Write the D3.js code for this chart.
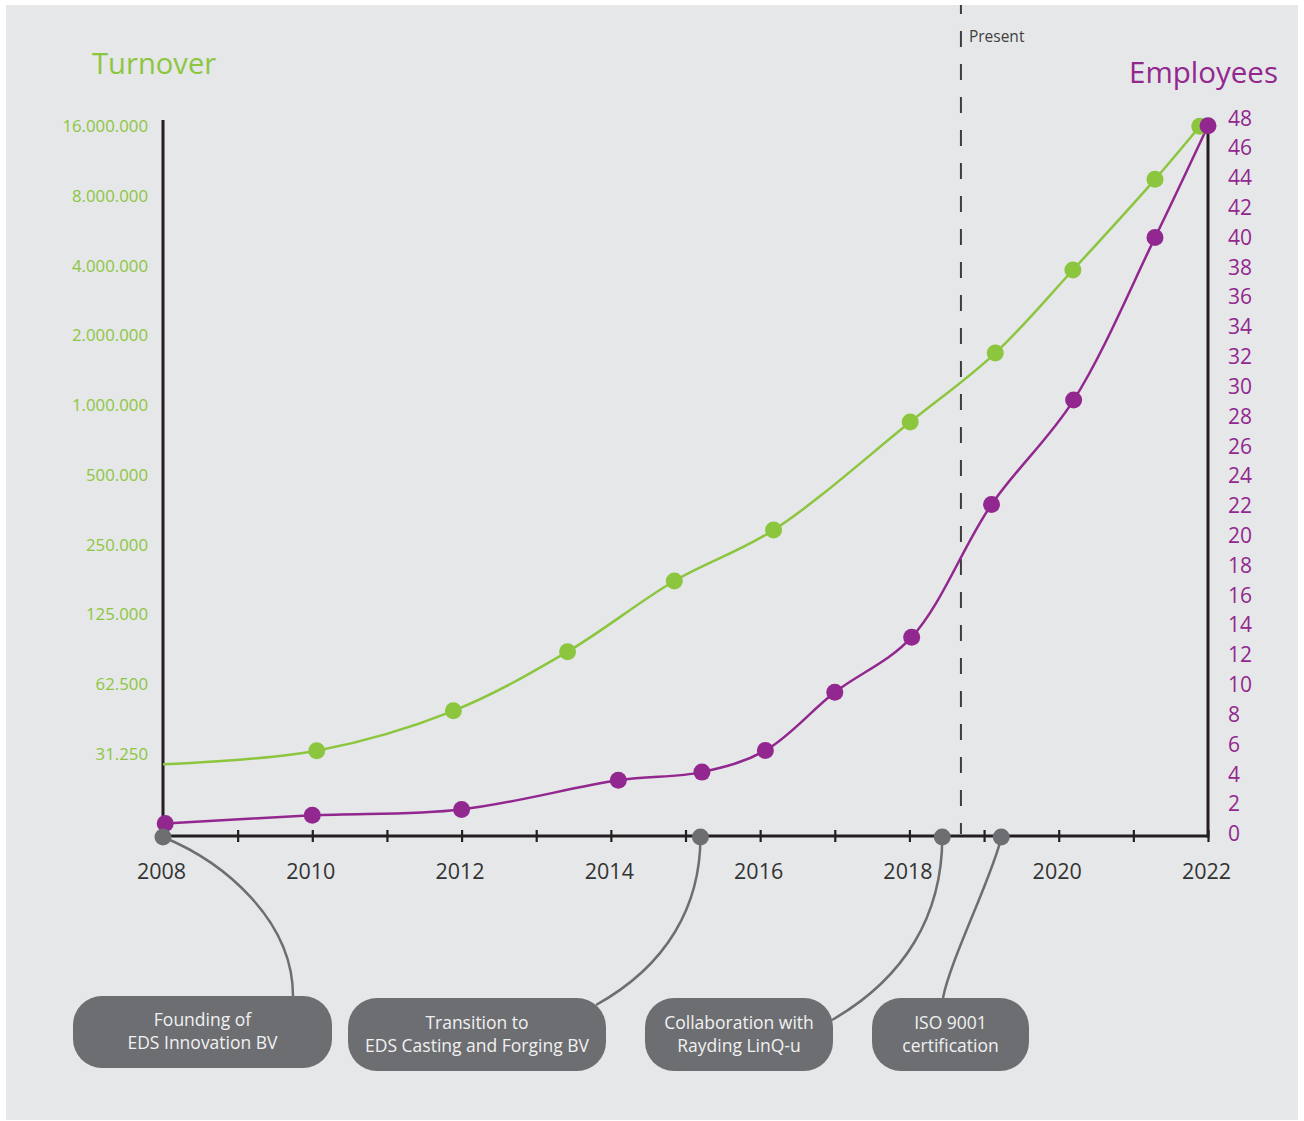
<!DOCTYPE html>
<html>
<head>
<meta charset="utf-8">
<script src="https://cdn.jsdelivr.net/npm/d3@7"></script>
<style>
  html, body { margin: 0; padding: 0; background: #ffffff; }
  svg { display: block; }
  text { font-family: "Open Sans", "Noto Sans", sans-serif; }
</style>
</head>
<body>
<svg id="chart" width="1304" height="1121"></svg>
<script>
// ---- data ----
const turnoverYears = [2008, 2010.06, 2011.89, 2013.42, 2014.85, 2016.18, 2018.01, 2019.15, 2020.19, 2021.29, 2021.89];
const turnover      = [28200, 32300, 48000, 86400, 174400, 289500, 846600, 1680000, 3834000, 9440000, 16000000];

const employeeYears = [2008.03, 2010, 2012, 2014.1, 2015.22, 2016.07, 2017, 2018.03, 2019.1, 2020.2, 2021.29, 2022];
const employees     = [0.7, 1.25, 1.65, 3.6, 4.15, 5.6, 9.5, 13.2, 22.1, 29.1, 40, 47.5];

const turnoverTicks = [31250, 62500, 125000, 250000, 500000, 1000000, 2000000, 4000000, 8000000, 16000000];
const employeeTicks = d3.range(0, 49, 2);
const yearTicks     = d3.range(2008, 2023, 1);
const yearLabels    = [2008, 2010, 2012, 2014, 2016, 2018, 2020, 2022];

const eventYears  = [2008, 2015.2, 2018.44, 2019.23];
const eventLabels = [
  ["Founding of", "EDS Innovation BV"],
  ["Transition to", "EDS Casting and Forging BV"],
  ["Collaboration with", "Rayding LinQ-u"],
  ["ISO 9001", "certification"]
];
const presentYear = 2018.69;

// ---- layout ----
const axisY = 836;
const leftX = 163, rightX = 1208;
const green = "#8cc63f", purple = "#92278f", grey = "#6d6e71", ink = "#231f20";

// pill boxes and connector shapes (box anchor + bezier handles)
const boxes = [
  { x: 73,  y: 996, w: 259, h: 72, c1: [61, 25],  c2: [293, 920], end: [293, 996] },
  { x: 348, y: 998, w: 258, h: 73, c1: [0, 68],   c2: [668, 965], end: [596, 1005] },
  { x: 645, y: 998, w: 188, h: 73, c1: [0, 78],   c2: [905, 978], end: [832, 1020] },
  { x: 872, y: 998, w: 157, h: 73, c1: [-6, 33],  c2: [950, 960], end: [943, 998] }
];

const svg = d3.select("#chart");

svg.append("rect")
  .attr("x", 6).attr("y", 5).attr("width", 1292).attr("height", 1115)
  .attr("fill", "#e6e7e8");

// ---- scales ----
const x = d3.scaleLinear().domain([2008, 2022]).range([leftX, rightX]);
const yT = d3.scaleLog().base(2).domain([31250, 16000000]).range([754, 126.25]);
const yE = d3.scaleLinear().domain([0, 48]).range([834, 118.3]);

const dotFmt = d3.formatLocale({ decimal: ",", thousands: ".", grouping: [3], currency: ["€", ""] }).format(",");

// ---- "Present" marker ----
svg.append("line")
  .attr("x1", x(presentYear)).attr("x2", x(presentYear))
  .attr("y1", 5).attr("y2", axisY - 2)
  .attr("stroke", "#3d3d3d").attr("stroke-width", 2)
  .attr("stroke-dasharray", "16,17").attr("stroke-dashoffset", 7);

svg.append("text")
  .attr("x", x(presentYear) + 8).attr("y", 42)
  .attr("font-size", 15.5).attr("fill", "#404041")
  .text("Present");

// ---- titles ----
svg.append("text")
  .attr("x", 92).attr("y", 74)
  .attr("font-size", 29.2).attr("fill", green)
  .text("Turnover");

svg.append("text")
  .attr("x", 1278).attr("y", 83).attr("text-anchor", "end")
  .attr("font-size", 29.5).attr("fill", purple)
  .text("Employees");

// ---- axes ----
const gLeft = svg.append("g").attr("transform", `translate(${leftX},0)`)
  .call(d3.axisLeft(yT).tickValues(turnoverTicks).tickFormat(dotFmt).tickSize(0).tickPadding(15));
gLeft.select(".domain").remove();
gLeft.selectAll("text").attr("fill", green).attr("font-size", 16.8)
  .style("font-family", "'Open Sans', sans-serif");

const gRight = svg.append("g").attr("transform", `translate(${rightX},0)`)
  .call(d3.axisRight(yE).tickValues(employeeTicks).tickSize(0).tickPadding(20));
gRight.select(".domain").remove();
gRight.selectAll("text").attr("fill", purple).attr("font-size", 21)
  .style("font-family", "'Open Sans', sans-serif");

// vertical axis lines
svg.append("line").attr("x1", leftX).attr("x2", leftX).attr("y1", 120).attr("y2", axisY + 1.5)
  .attr("stroke", ink).attr("stroke-width", 3);
svg.append("line").attr("x1", rightX).attr("x2", rightX).attr("y1", yE(47.5)).attr("y2", axisY + 1.5)
  .attr("stroke", ink).attr("stroke-width", 3);

// time axis
const gBottom = svg.append("g").attr("transform", `translate(0,${axisY})`)
  .call(d3.axisBottom(x).tickValues(yearTicks).tickSize(6).tickPadding(0)
    .tickFormat(d => yearLabels.includes(d) ? String(d) : ""));
gBottom.select(".domain").attr("stroke", ink).attr("stroke-width", 3)
  .attr("d", `M${leftX},0H${rightX}`);
gBottom.selectAll(".tick line").attr("y1", -6).attr("y2", 6)
  .attr("stroke", ink).attr("stroke-width", 2.2);
gBottom.selectAll(".tick text")
  .attr("y", 43).attr("dy", 0).attr("dx", -2)
  .attr("fill", "#333333").attr("font-size", 21.5)
  .style("font-family", "'Open Sans', sans-serif");

// ---- lines ----
const tData = turnoverYears.map((yr, i) => ({ yr, v: turnover[i] }));
const eData = employeeYears.map((yr, i) => ({ yr, v: employees[i] }));

svg.append("path")
  .datum(tData)
  .attr("fill", "none").attr("stroke", green).attr("stroke-width", 2.5)
  .attr("d", d3.line().x(d => x(d.yr)).y(d => yT(d.v)).curve(d3.curveCatmullRom.alpha(0.5)));

svg.append("path")
  .datum(eData)
  .attr("fill", "none").attr("stroke", purple).attr("stroke-width", 2.5)
  .attr("d", d3.line().x(d => x(d.yr)).y(d => yE(d.v)).curve(d3.curveCatmullRom.alpha(0.5)));

svg.append("g").selectAll("circle")
  .data(tData.slice(1))
  .join("circle")
  .attr("cx", d => x(d.yr)).attr("cy", d => yT(d.v)).attr("r", 8.5)
  .attr("fill", green);

svg.append("g").selectAll("circle")
  .data(eData)
  .join("circle")
  .attr("cx", d => x(d.yr)).attr("cy", d => yE(d.v)).attr("r", 8.5)
  .attr("fill", purple);

// ---- milestones ----
const ev = eventYears.map((yr, i) => ({ yr, label: eventLabels[i], box: boxes[i] }));

svg.append("g").selectAll("path")
  .data(ev)
  .join("path")
  .attr("fill", "none").attr("stroke", grey).attr("stroke-width", 2.5)
  .attr("d", d => {
    const p = d3.path();
    const x0 = x(d.yr), y0 = axisY + 1;
    p.moveTo(x0, y0);
    p.bezierCurveTo(x0 + d.box.c1[0], y0 + d.box.c1[1], d.box.c2[0], d.box.c2[1], d.box.end[0], d.box.end[1]);
    return p.toString();
  });

svg.append("g").selectAll("circle")
  .data(ev)
  .join("circle")
  .attr("cx", d => x(d.yr)).attr("cy", axisY + 1).attr("r", 8.5)
  .attr("fill", grey);

const gBox = svg.append("g").selectAll("g")
  .data(ev)
  .join("g");

gBox.append("rect")
  .attr("x", d => d.box.x).attr("y", d => d.box.y)
  .attr("width", d => d.box.w).attr("height", d => d.box.h)
  .attr("rx", 29).attr("ry", 29)
  .attr("fill", grey);

gBox.append("text")
  .attr("text-anchor", "middle")
  .attr("fill", "#f1f1f2").attr("font-size", 17.5)
  .selectAll("tspan")
  .data(d => d.label.map((s, j) => ({ s, j, box: d.box })))
  .join("tspan")
  .attr("x", d => d.box.x + d.box.w / 2)
  .attr("y", d => d.box.y + d.box.h / 2 - 6 + d.j * 23)
  .text(d => d.s);
</script>
</body>
</html>
